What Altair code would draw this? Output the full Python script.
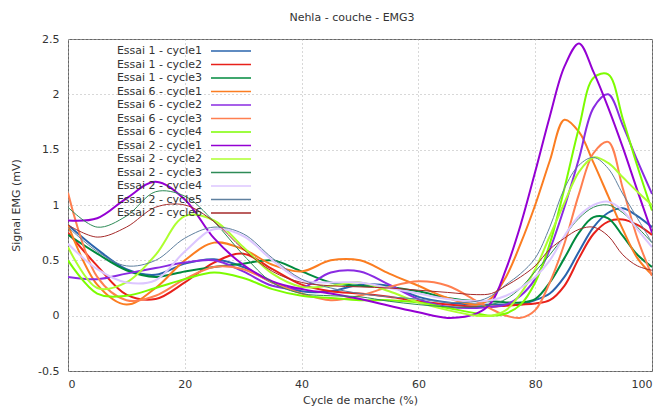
import altair as alt
import pandas as pd

x_pct = [0, 5, 10, 15, 20, 25, 30, 35, 40, 45, 50, 55, 60, 65, 70,
         72.5, 75, 77.5, 80, 82.5, 85, 87.5, 90, 92.5, 95, 97.5, 100]

series_names = [
    "Essai 1 - cycle1", "Essai 1 - cycle2", "Essai 1 - cycle3",
    "Essai 6 - cycle1", "Essai 6 - cycle2", "Essai 6 - cycle3", "Essai 6 - cycle4",
    "Essai 2 - cycle1", "Essai 2 - cycle2", "Essai 2 - cycle3", "Essai 2 - cycle4",
    "Essai 2 - cycle5", "Essai 2 - cycle6",
]

e1c1 = [0.82, 0.60, 0.42, 0.37, 0.47, 0.51, 0.44, 0.30, 0.22, 0.22, 0.28, 0.27, 0.17, 0.12, 0.10,
        0.10, 0.10, 0.10, 0.14, 0.20, 0.35, 0.58, 0.80, 0.93, 0.97, 0.90, 0.80]
e1c2 = [0.75, 0.45, 0.19, 0.15, 0.30, 0.48, 0.56, 0.42, 0.28, 0.22, 0.20, 0.17, 0.13, 0.10, 0.08,
        0.08, 0.09, 0.10, 0.11, 0.14, 0.27, 0.52, 0.74, 0.85, 0.87, 0.82, 0.73]
e1c3 = [0.73, 0.56, 0.41, 0.35, 0.40, 0.44, 0.47, 0.50, 0.40, 0.30, 0.27, 0.26, 0.22, 0.16, 0.13,
        0.13, 0.12, 0.12, 0.15, 0.30, 0.52, 0.75, 0.89, 0.88, 0.72, 0.55, 0.44]
e6c1 = [0.82, 0.28, 0.10, 0.25, 0.50, 0.66, 0.60, 0.46, 0.40, 0.50, 0.50, 0.38, 0.27, 0.16, 0.10,
        0.16, 0.35, 0.65, 1.00, 1.40, 1.77, 1.66, 1.38, 1.08, 0.78, 0.52, 0.37]
e6c2 = [0.35, 0.33, 0.38, 0.43, 0.48, 0.50, 0.40, 0.27, 0.25, 0.39, 0.40, 0.28, 0.15, 0.08, 0.07,
        0.08, 0.10, 0.18, 0.33, 0.60, 0.98, 1.42, 1.88, 2.00, 1.72, 1.40, 1.10]
e6c3 = [1.11, 0.35, 0.14, 0.18, 0.33, 0.44, 0.42, 0.30, 0.20, 0.14, 0.18, 0.26, 0.31, 0.27, 0.13,
        0.06, 0.00, -0.02, 0.05, 0.30, 0.65, 1.10, 1.47, 1.57, 1.15, 0.70, 0.36]
e6c4 = [0.50, 0.20, 0.18, 0.25, 0.33, 0.39, 0.34, 0.24, 0.18, 0.16, 0.14, 0.14, 0.12, 0.07, 0.02,
        0.00, 0.02, 0.10, 0.30, 0.65, 1.15, 1.70, 2.15, 2.18, 1.78, 1.35, 0.95]
e2c1 = [0.86, 0.88, 1.06, 1.21, 1.05, 0.70, 0.46, 0.31, 0.24, 0.20, 0.15, 0.09, 0.03, -0.02, 0.02,
        0.12, 0.42, 0.82, 1.30, 1.80, 2.25, 2.46, 2.20, 1.88, 1.52, 1.13, 0.75]
e2c2 = [0.62, 0.25, 0.30, 0.55, 0.90, 0.86, 0.62, 0.38, 0.26, 0.27, 0.30, 0.22, 0.12, 0.05, 0.00,
        0.00, 0.05, 0.20, 0.42, 0.72, 1.02, 1.30, 1.43, 1.38, 1.25, 1.12, 1.00]
e2c3 = [0.98, 0.80, 0.90, 1.12, 1.08, 0.85, 0.55, 0.30, 0.20, 0.18, 0.17, 0.13, 0.10, 0.08, 0.08,
        0.10, 0.15, 0.25, 0.40, 0.55, 0.72, 0.88, 0.98, 1.00, 0.93, 0.80, 0.66]
e2c4 = [0.65, 0.42, 0.30, 0.32, 0.58, 0.78, 0.72, 0.50, 0.32, 0.30, 0.30, 0.25, 0.20, 0.15, 0.13,
        0.14, 0.18, 0.25, 0.35, 0.50, 0.72, 0.90, 1.00, 1.03, 0.95, 0.78, 0.62]
e2c5 = [0.80, 0.58, 0.45, 0.50, 0.70, 0.80, 0.74, 0.52, 0.33, 0.25, 0.20, 0.17, 0.15, 0.12, 0.13,
        0.18, 0.28, 0.38, 0.52, 0.80, 1.15, 1.36, 1.43, 1.33, 1.10, 0.88, 0.66]
e2c6 = [0.82, 0.71, 0.80, 0.98, 1.00, 0.85, 0.60, 0.40, 0.30, 0.27, 0.26, 0.25, 0.23, 0.21, 0.19,
        0.20, 0.27, 0.35, 0.45, 0.60, 0.70, 0.78, 0.80, 0.72, 0.55, 0.45, 0.41]

series_values = [e1c1, e1c2, e1c3, e6c1, e6c2, e6c3, e6c4, e2c1, e2c2, e2c3, e2c4, e2c5, e2c6]

colors = ["#2a64ad", "#e8211b", "#008a3e", "#fb7d21", "#8a2be2", "#ff7f50", "#7cfc00",
          "#9400d3", "#adff2f", "#2e8b57", "#dcc6ff", "#5f809f", "#a52a2a"]
widths = [2, 2, 2, 2, 2, 2, 2, 2, 2, 1, 2, 1, 1]

y_ticks = [-0.5, 0, 0.5, 1, 1.5, 2, 2.5]
x_ticks = [0, 20, 40, 60, 80, 100]

rows = []
for name, vals, w in zip(series_names, series_values, widths):
    for i, (xv, yv) in enumerate(zip(x_pct, vals)):
        rows.append({"serie": name, "x": xv, "y": yv, "ord": i, "w": w})
df = pd.DataFrame(rows)

FONT = "DejaVu Sans"
TXT = "#333333"

chart = alt.Chart(df).mark_line(interpolate="catmull-rom", clip=True).encode(
    x=alt.X("x:Q", scale=alt.Scale(domain=[0, 100], nice=False),
            axis=alt.Axis(values=x_ticks, title="Cycle de marche (%)", titlePadding=5,
                          labelPadding=7)),
    y=alt.Y("y:Q", scale=alt.Scale(domain=[-0.5, 2.5], nice=False),
            axis=alt.Axis(values=y_ticks, title="Signal EMG (mV)", titlePadding=16,
                          labelPadding=9,
                          labelExpr="datum.value < 0 ? '-' + format(-datum.value, '~g') : format(datum.value, '~g')")),
    color=alt.Color("serie:N", sort=series_names,
                    scale=alt.Scale(domain=series_names, range=colors),
                    legend=alt.Legend(title=None, orient="none", legendX=157, legendY=6,
                                      symbolType="M-4,0H4", symbolSize=100, symbolStrokeWidth=1.5,
                                      labelAlign="right", labelOffset={"expr": "-35"},
                                      labelFontSize=11,
                                      labelFont=FONT, labelColor=TXT, rowPadding=2.5, padding=0,
                                      labelLimit=300)),
    strokeWidth=alt.StrokeWidth("w:Q", scale=None, legend=None),
    order="ord:Q",
).properties(
    width=584, height=332,
    title=alt.TitleParams("Nehla - couche - EMG3", fontSize=11, font=FONT,
                          fontWeight="normal", color=TXT, offset=10, dx=-8),
    autosize=alt.AutoSizeParams(type="none"),
    padding={"left": 60, "top": 31, "right": 3, "bottom": 35},
).configure_view(
    stroke="#666666", strokeWidth=1
).configure_axis(
    grid=True, gridColor="#b0b0b0", gridDash=[1, 3], gridWidth=1,
    domain=False, ticks=False,
    labelFont=FONT, labelFontSize=11, labelColor=TXT,
    titleFont=FONT, titleFontSize=11, titleColor=TXT, titleFontWeight="normal",
)

chart.save("out.html", embed_options={"renderer": "svg", "actions": False})
